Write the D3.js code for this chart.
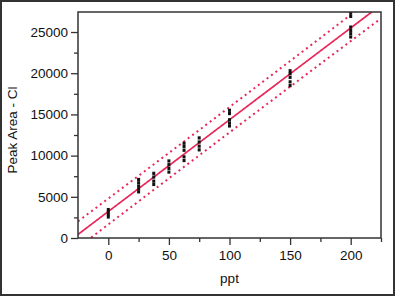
<!DOCTYPE html>
<html><head><meta charset="utf-8">
<script src="https://cdn.jsdelivr.net/npm/d3@7"></script>
<style>
html,body{margin:0;padding:0;background:#fff;}
svg{display:block;font-family:"Liberation Sans",Arial,sans-serif;}
</style></head>
<body>
<svg id="c" width="400" height="298"></svg>
<script>
// ---- data ----
const xLevels = [0, 25, 37.5, 50, 62.5, 75, 100, 150, 200];
const peakArea = [
  [2550, 2850, 3150, 3450],
  [5600, 5950, 6300, 6700, 7100],
  [6500, 6900, 7400, 7850],
  [8000, 8450, 8900, 9350],
  [9400, 9850, 10650, 11100, 11500],
  [10700, 11150, 11650, 12150],
  [13600, 13950, 14350, 15100, 15500],
  [18500, 18950, 19500, 19950, 20300],
  [24400, 24800, 25200, 25600, 26900, 27300]
];
const xTickLabels = [0, 50, 100, 150, 200];
const yTickLabels = [0, 5000, 10000, 15000, 20000, 25000];
const xTitle = "ppt";
const yTitle = "Peak Area - Cl";
const tCrit = 2.02;

const points = [];
xLevels.forEach((x, i) => peakArea[i].forEach(y => points.push({x, y})));

// least squares fit + prediction interval
const n = points.length;
const xb = d3.mean(points, d => d.x), yb = d3.mean(points, d => d.y);
const sxx = d3.sum(points, d => (d.x - xb) ** 2);
const sxy = d3.sum(points, d => (d.x - xb) * (d.y - yb));
const slope = sxy / sxx, icpt = yb - slope * xb;
const s = Math.sqrt(d3.sum(points, d => (d.y - icpt - slope * d.x) ** 2) / (n - 2));

const svg = d3.select("#c");
const M = {l: 78, t: 12, r: 381, b: 238};
const x = d3.scaleLinear().domain([-25, 225]).range([M.l, M.r]);
const y = d3.scaleLinear().domain([0, 27430]).range([M.b, M.t]);
const red = "#e8285a";

// outer border
svg.append("rect").attr("x", 1).attr("y", 1).attr("width", 393).attr("height", 294)
  .attr("fill", "none").attr("stroke", "#333").attr("stroke-width", 2);

svg.append("clipPath").attr("id", "clip").append("rect")
  .attr("x", M.l).attr("y", M.t).attr("width", M.r - M.l).attr("height", M.b - M.t);
const g = svg.append("g").attr("clip-path", "url(#clip)");

const xs = d3.range(-25, 225.01, 1);
const fitLine = d3.line().x(d => x(d)).y(d => y(icpt + slope * d));
const half = d => tCrit * s * Math.sqrt(1 + 1 / n + (d - xb) ** 2 / sxx);
const upLine = d3.line().x(d => x(d)).y(d => y(icpt + slope * d + half(d)));
const loLine = d3.line().x(d => x(d)).y(d => y(icpt + slope * d - half(d)));

g.append("path").attr("d", upLine(xs)).attr("fill", "none").attr("stroke", red)
  .attr("stroke-width", 2).attr("stroke-dasharray", "2,3.5");
g.append("path").attr("d", loLine(xs)).attr("fill", "none").attr("stroke", red)
  .attr("stroke-width", 2).attr("stroke-dasharray", "2,3.5");
g.append("path").attr("d", fitLine(xs)).attr("fill", "none").attr("stroke", red)
  .attr("stroke-width", 1.7);

g.selectAll("rect.pt").data(points).join("rect").attr("class", "pt")
  .attr("x", d => x(d.x) - 1.5).attr("y", d => y(d.y) - 1.6)
  .attr("width", 3).attr("height", 3.2).attr("fill", "#111");

// axes
svg.append("g").attr("transform", `translate(0,${M.b})`)
  .call(d3.axisBottom(x).tickValues(xTickLabels).tickSize(7).tickPadding(5).tickFormat(d3.format("d")));
svg.append("g").attr("transform", `translate(0,${M.b})`)
  .call(d3.axisBottom(x).tickValues([25, 75, 125, 175, 225]).tickSize(4).tickFormat(""));
svg.append("g").attr("transform", `translate(${M.l},0)`)
  .call(d3.axisLeft(y).tickValues(yTickLabels).tickSize(7).tickPadding(3).tickFormat(d3.format("d")));
svg.append("g").attr("transform", `translate(${M.l},0)`)
  .call(d3.axisLeft(y).tickValues(d3.range(2500, 27500, 5000)).tickSize(4).tickFormat(""));
svg.selectAll(".domain").remove();
svg.selectAll(".tick line").attr("stroke", "#333").attr("stroke-width", 1.3);
svg.selectAll(".tick text").attr("font-size", 13.5).attr("fill", "#111")
  .attr("font-family", "Liberation Sans, Arial, sans-serif");

// frame
svg.append("rect").attr("x", M.l).attr("y", M.t).attr("width", M.r - M.l).attr("height", M.b - M.t)
  .attr("fill", "none").attr("stroke", "#333").attr("stroke-width", 1.5);

svg.append("text").attr("x", (M.l + M.r) / 2).attr("y", 283).attr("text-anchor", "middle")
  .attr("font-size", 13.5).attr("fill", "#111").text(xTitle);
svg.append("text").attr("transform", `translate(17,130) rotate(-90)`).attr("text-anchor", "middle")
  .attr("font-size", 13.5).attr("fill", "#111").text(yTitle);
</script>
</body></html>
